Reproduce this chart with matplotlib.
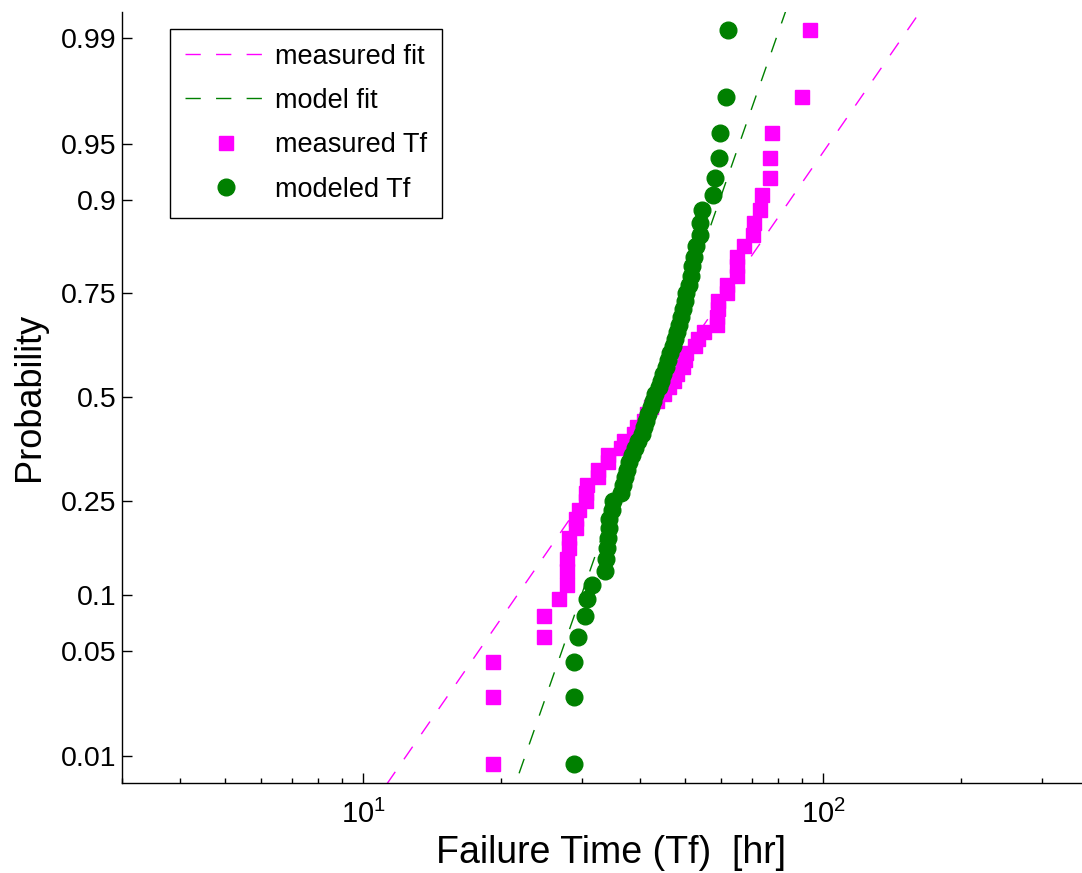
import numpy as np
import matplotlib
matplotlib.use('Agg')
import matplotlib.pyplot as plt
from matplotlib.lines import Line2D
from statistics import NormalDist

# failure times in hours, sorted
measured_tf = [19.2, 19.2, 19.2, 24.8, 24.8, 26.7, 27.7, 27.7, 27.7, 28.1,
               28.1, 29.1, 29.1, 29.5, 30.6, 30.6, 30.7, 32.5, 32.5, 34.1,
               34.1, 36.4, 37.0, 38.9, 39.5, 40.9, 41.5, 42.3, 43.6, 45.2,
               46.3, 47.5, 48.2, 49.7, 50.2, 50.4, 52.8, 53.6, 55.2, 58.9,
               58.9, 59.2, 59.2, 61.9, 61.9, 65.1, 65.1, 65.1, 67.4, 70.5,
               70.9, 73.1, 73.8, 76.8, 76.8, 77.6, 90.2, 93.9]
modeled_tf = [28.8, 28.8, 28.8, 29.4, 30.4, 30.7, 31.4, 33.5, 33.8, 34.0,
              34.1, 34.3, 34.3, 34.7, 35.0, 36.4, 36.8, 37.2, 37.5, 37.9,
              38.5, 39.1, 39.7, 40.5, 40.9, 41.3, 41.7, 42.3, 42.8, 43.2,
              43.9, 44.5, 45.0, 45.6, 46.1, 46.6, 47.3, 47.7, 48.2, 48.7,
              49.2, 49.7, 50.2, 50.4, 51.2, 51.7, 52.0, 52.5, 53.0, 54.1,
              54.1, 54.6, 57.7, 58.3, 59.5, 59.8, 61.6, 62.3]

# lognormal fits: (median [hr], sigma of ln)
measured_fit = (42.9, 0.533)
model_fit = (42.2, 0.270)

prob_ticks = [0.01, 0.05, 0.1, 0.25, 0.5, 0.75, 0.9, 0.95, 0.99]
prob_labels = ['0.01', '0.05', '0.1', '0.25', '0.5', '0.75', '0.9', '0.95', '0.99']

nd = NormalDist()
_ppf = np.vectorize(nd.inv_cdf, otypes=[float])
_cdf = np.vectorize(nd.cdf, otypes=[float])


def to_q(p):
    p = np.clip(np.asarray(p, dtype=float), 1e-12, 1 - 1e-12)
    return _ppf(p)


def from_q(q):
    return _cdf(np.asarray(q, dtype=float))


plt.rcParams['font.family'] = ['Liberation Sans', 'DejaVu Sans']
plt.rcParams['mathtext.fontset'] = 'custom'
plt.rcParams['mathtext.rm'] = 'Liberation Sans'

MAG = '#ff00ff'
GRN = '#008000'

fig = plt.figure(figsize=(10.82, 8.73), dpi=100)
ax = fig.add_axes([0.1132, 0.1034, 0.9034, 0.8832])
ax.set_xscale('log')
ax.set_yscale('function', functions=(to_q, from_q))

n = len(measured_tf)
pp = (np.arange(1, n + 1) - 0.5) / n

# fitted reference lines across the whole probability range
qq = np.array([-3.0, 3.0])
pq = from_q(qq)
dash = (0, (11, 11))
ax.plot(measured_fit[0] * np.exp(measured_fit[1] * qq), pq, color=MAG,
        lw=1.0, linestyle=dash)
ax.plot(model_fit[0] * np.exp(model_fit[1] * qq), pq, color=GRN,
        lw=1.0, linestyle=dash)

ax.plot(np.sort(measured_tf), pp, 's', color=MAG, ms=10, mec=MAG)
ax.plot(np.sort(modeled_tf), pp, 'o', color=GRN, ms=12, mec=GRN)

ax.set_xlim(3, 400)
ax.set_ylim(from_q(-2.5), from_q(2.5))
ax.set_yticks(prob_ticks)
ax.set_yticklabels(prob_labels)
ax.yaxis.set_minor_locator(matplotlib.ticker.NullLocator())

for s in ['top', 'right']:
    ax.spines[s].set_visible(False)
for s in ['left', 'bottom']:
    ax.spines[s].set_linewidth(1.0)

ax.tick_params(which='both', direction='in', width=1.0)
ax.tick_params(which='major', length=7)
ax.tick_params(which='minor', length=3.5)
ax.tick_params(axis='y', pad=4.5, labelsize=20.5)
ax.tick_params(axis='x', pad=12.5, labelsize=21)

ax.set_xlabel('Failure Time (Tf)  [hr]', fontsize=27)
ax.xaxis.set_label_coords(0.5, -0.068)
ax.set_ylabel('Probability', fontsize=26)
ax.yaxis.set_label_coords(-0.077, 0.5)

handles = [
    Line2D([], [], color=MAG, lw=1.0, linestyle=dash),
    Line2D([], [], color=GRN, lw=1.0, linestyle=dash),
    Line2D([], [], marker='s', color=MAG, ls='none', ms=10),
    Line2D([], [], marker='o', color=GRN, ls='none', ms=12),
]
leg = ax.legend(handles, ['measured fit', 'model fit', 'measured Tf', 'modeled Tf'],
                loc='upper left', bbox_to_anchor=(0.0486, 0.978),
                borderaxespad=0, fontsize=19.5, numpoints=1, handlelength=3.0,
                handletextpad=0.33, labelspacing=0.68, fancybox=False,
                framealpha=1, edgecolor='black', borderpad=0.55)
leg.get_frame().set_linewidth(1.0)

fig.savefig('out.png', dpi=100)
